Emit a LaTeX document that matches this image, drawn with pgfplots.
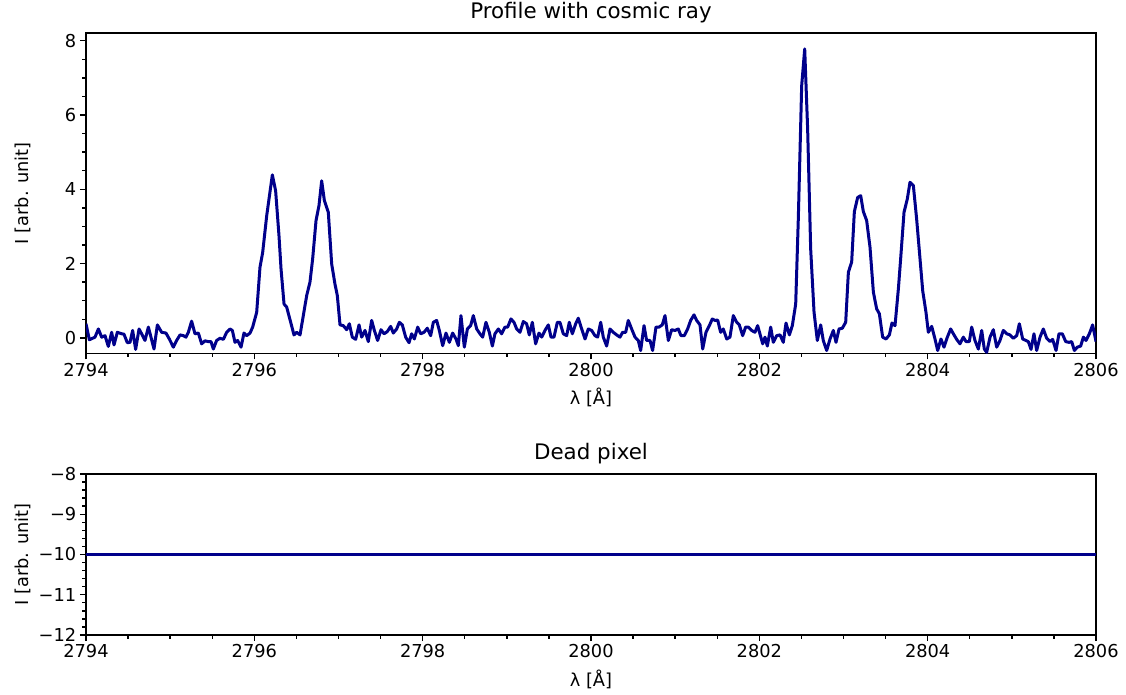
\documentclass[border=0pt]{standalone}
\usepackage{pgfplots}
\pgfplotsset{compat=1.18}
\usepackage{fontspec}
\setmainfont{DejaVu Sans}
\definecolor{linecol}{RGB}{0,0,139}

\pgfplotstableread{
x y
2794.000 0.38
2794.040 -0.05
2794.107 0.02
2794.147 0.24
2794.186 0.02
2794.226 0.06
2794.265 -0.23
2794.305 0.15
2794.333 -0.19
2794.372 0.15
2794.424 0.11
2794.451 0.10
2794.491 -0.13
2794.523 -0.12
2794.554 0.20
2794.590 -0.31
2794.630 0.24
2794.661 0.11
2794.701 -0.07
2794.741 0.29
2794.772 0.02
2794.808 -0.30
2794.848 0.35
2794.899 0.15
2794.950 0.13
2794.990 -0.03
2795.038 -0.25
2795.077 -0.07
2795.117 0.08
2795.156 0.06
2795.188 0.02
2795.216 0.15
2795.255 0.45
2795.295 0.11
2795.335 0.13
2795.374 -0.16
2795.414 -0.08
2795.453 -0.10
2795.485 -0.10
2795.513 -0.30
2795.552 -0.07
2795.592 -0.01
2795.632 -0.04
2795.671 0.15
2795.711 0.24
2795.739 0.20
2795.770 -0.12
2795.802 -0.07
2795.842 -0.25
2795.877 0.13
2795.909 0.06
2795.949 0.13
2795.980 0.29
2796.028 0.69
2796.067 1.90
2796.099 2.30
2796.147 3.29
2796.214 4.39
2796.253 3.96
2796.293 2.75
2796.317 1.86
2796.353 0.91
2796.384 0.83
2796.432 0.42
2796.471 0.08
2796.503 0.15
2796.543 0.08
2796.582 0.60
2796.622 1.14
2796.661 1.50
2796.693 2.13
2796.733 3.16
2796.768 3.56
2796.800 4.23
2796.832 3.70
2796.879 3.38
2796.919 1.99
2796.958 1.45
2796.986 1.14
2797.018 0.35
2797.057 0.33
2797.097 0.22
2797.129 0.38
2797.164 0.02
2797.204 -0.04
2797.244 0.35
2797.275 0.02
2797.315 0.20
2797.354 -0.10
2797.394 0.47
2797.426 0.20
2797.465 -0.07
2797.505 0.22
2797.541 0.11
2797.580 0.17
2797.620 0.31
2797.651 0.13
2797.691 0.24
2797.723 0.42
2797.758 0.35
2797.798 0.02
2797.838 -0.13
2797.869 0.11
2797.901 -0.03
2797.941 0.29
2797.976 0.11
2798.016 0.15
2798.055 0.26
2798.095 0.06
2798.127 0.42
2798.166 0.47
2798.198 0.20
2798.238 -0.21
2798.277 0.13
2798.317 -0.12
2798.356 0.13
2798.396 -0.03
2798.424 -0.21
2798.455 0.60
2798.495 -0.25
2798.531 0.24
2798.570 0.33
2798.602 0.60
2798.642 0.24
2798.681 0.11
2798.713 0.02
2798.752 0.42
2798.792 0.15
2798.828 -0.22
2798.859 0.11
2798.899 0.24
2798.938 0.11
2798.978 0.29
2799.010 0.29
2799.049 0.51
2799.085 0.42
2799.117 0.24
2799.156 0.15
2799.196 0.44
2799.235 0.38
2799.267 0.08
2799.303 0.42
2799.342 -0.16
2799.382 0.13
2799.414 0.02
2799.453 0.20
2799.493 0.35
2799.525 0.02
2799.560 0.02
2799.600 0.42
2799.631 0.42
2799.671 0.11
2799.711 0.06
2799.742 0.42
2799.778 0.11
2799.818 0.38
2799.849 0.53
2799.889 0.24
2799.929 -0.03
2799.968 0.24
2800.008 0.20
2800.047 0.06
2800.079 0.02
2800.115 0.42
2800.146 0.02
2800.186 -0.22
2800.226 0.24
2800.265 0.15
2800.305 0.08
2800.344 0.02
2800.376 0.15
2800.412 0.15
2800.443 0.47
2800.483 0.24
2800.523 0.02
2800.562 -0.07
2800.590 -0.34
2800.630 0.33
2800.661 -0.07
2800.701 -0.07
2800.732 -0.34
2800.772 0.29
2800.808 0.29
2800.847 0.35
2800.879 0.60
2800.919 -0.07
2800.958 0.22
2800.998 0.20
2801.037 0.24
2801.069 0.06
2801.109 0.06
2801.148 0.24
2801.184 0.47
2801.224 0.62
2801.255 0.47
2801.295 0.35
2801.327 -0.30
2801.366 0.15
2801.406 0.33
2801.441 0.51
2801.473 0.47
2801.505 0.48
2801.540 0.15
2801.572 0.24
2801.612 -0.03
2801.651 0.02
2801.691 0.60
2801.731 0.42
2801.762 0.35
2801.802 0.06
2801.837 0.29
2801.869 0.29
2801.909 0.20
2801.948 0.15
2801.980 0.33
2802.040 -0.16
2802.067 0.02
2802.095 -0.22
2802.135 0.29
2802.166 -0.12
2802.206 0.06
2802.246 0.08
2802.285 -0.12
2802.317 0.40
2802.357 0.08
2802.392 0.33
2802.432 0.91
2802.463 3.20
2802.503 6.79
2802.539 7.78
2802.574 5.62
2802.610 2.39
2802.650 0.69
2802.689 -0.07
2802.729 0.35
2802.760 -0.07
2802.800 -0.34
2802.840 -0.03
2802.879 0.20
2802.911 -0.12
2802.947 0.24
2802.986 0.26
2803.026 0.42
2803.058 1.77
2803.097 2.04
2803.129 3.40
2803.168 3.78
2803.204 3.83
2803.236 3.40
2803.275 3.16
2803.315 2.44
2803.355 1.23
2803.394 0.78
2803.426 0.65
2803.465 0.02
2803.505 -0.03
2803.545 0.08
2803.576 0.40
2803.612 0.33
2803.652 1.32
2803.679 2.13
2803.719 3.38
2803.758 3.74
2803.790 4.19
2803.830 4.10
2803.869 3.20
2803.909 2.13
2803.941 1.27
2803.980 0.69
2804.008 0.15
2804.048 0.31
2804.087 -0.03
2804.119 -0.34
2804.158 -0.03
2804.194 -0.25
2804.234 0.02
2804.273 0.24
2804.313 0.08
2804.345 -0.04
2804.384 -0.16
2804.424 0.02
2804.456 -0.10
2804.495 -0.10
2804.523 0.29
2804.562 -0.07
2804.602 -0.30
2804.642 0.20
2804.673 -0.30
2804.701 -0.39
2804.741 0.02
2804.780 0.22
2804.820 -0.25
2804.859 -0.07
2804.899 0.20
2804.939 0.11
2804.978 0.08
2805.018 -0.01
2805.058 0.06
2805.089 0.38
2805.129 -0.03
2805.168 -0.07
2805.196 -0.10
2805.228 -0.31
2805.263 0.11
2805.295 -0.34
2805.335 0.02
2805.374 0.24
2805.414 -0.01
2805.454 -0.10
2805.485 -0.04
2805.525 -0.34
2805.560 0.11
2805.600 0.11
2805.640 -0.10
2805.679 -0.12
2805.711 -0.10
2805.743 -0.34
2805.778 -0.25
2805.818 -0.22
2805.850 0.02
2805.881 -0.07
2805.921 0.11
2805.960 0.35
2806.000 -0.10
}\cosmic

\pgfplotstableread{
x y
2794 -10
2806 -10
}\dead

\pgfplotsset{
  myax/.style={
    scale only axis,
    width=1010pt,
    xmin=2794, xmax=2806,
    xtick={2794,2796,2798,2800,2802,2804,2806},
    minor x tick num=3,
    tick align=outside,
    xtick pos=bottom, ytick pos=left,
    major tick length=6.2pt,
    minor tick length=3.6pt,
    every tick/.style={black, line width=1.4pt},
    axis line style={black, line width=1.4pt},
    /pgf/number format/assume math mode=true,
    /pgf/number format/1000 sep={},
    scaled ticks=false,
    ticklabel style={font=\fontsize{17.8}{20}\selectfont},
    label style={font=\fontsize{17.8}{20}\selectfont},
    title style={font=\fontsize{21.4}{24}\selectfont, at={(axis description cs:0.5,1)}, anchor=base, yshift=8pt},
    xlabel={λ [Å]},
    ylabel={I [arb. unit]},
    ylabel style={at={(axis description cs:-0.0625,0.5)}, anchor=center},
  }
}

\begin{document}
\begin{tikzpicture}
\useasboundingbox (0,0) rectangle (1126pt,695pt);
\begin{axis}[myax,
  at={(86pt,341.7pt)}, anchor=south west,
  height=320.3pt,
  ymin=-0.415, ymax=8.21,
  ytick={0,2,4,6,8},
  minor y tick num=3,
  title={Profile with cosmic ray},
  xlabel style={at={(axis description cs:0.5,0)}, anchor=base, yshift=-51.7pt},
]
\addplot[linecol, line width=3pt, line join=round, no marks] table[x=x,y=y] {\cosmic};
\end{axis}
\begin{axis}[myax,
  at={(86pt,60pt)}, anchor=south west,
  height=161pt,
  ymin=-12, ymax=-8,
  ytick={-12,-11,-10,-9,-8},
  yticklabels={−12,−11,−10,−9,−8},
  minor y tick num=4,
  title={Dead pixel},
  xlabel style={at={(axis description cs:0.5,0)}, anchor=base, yshift=-51.7pt},
]
\addplot[linecol, line width=3pt, no marks] table[x=x,y=y] {\dead};
\end{axis}
\end{tikzpicture}
\end{document}
